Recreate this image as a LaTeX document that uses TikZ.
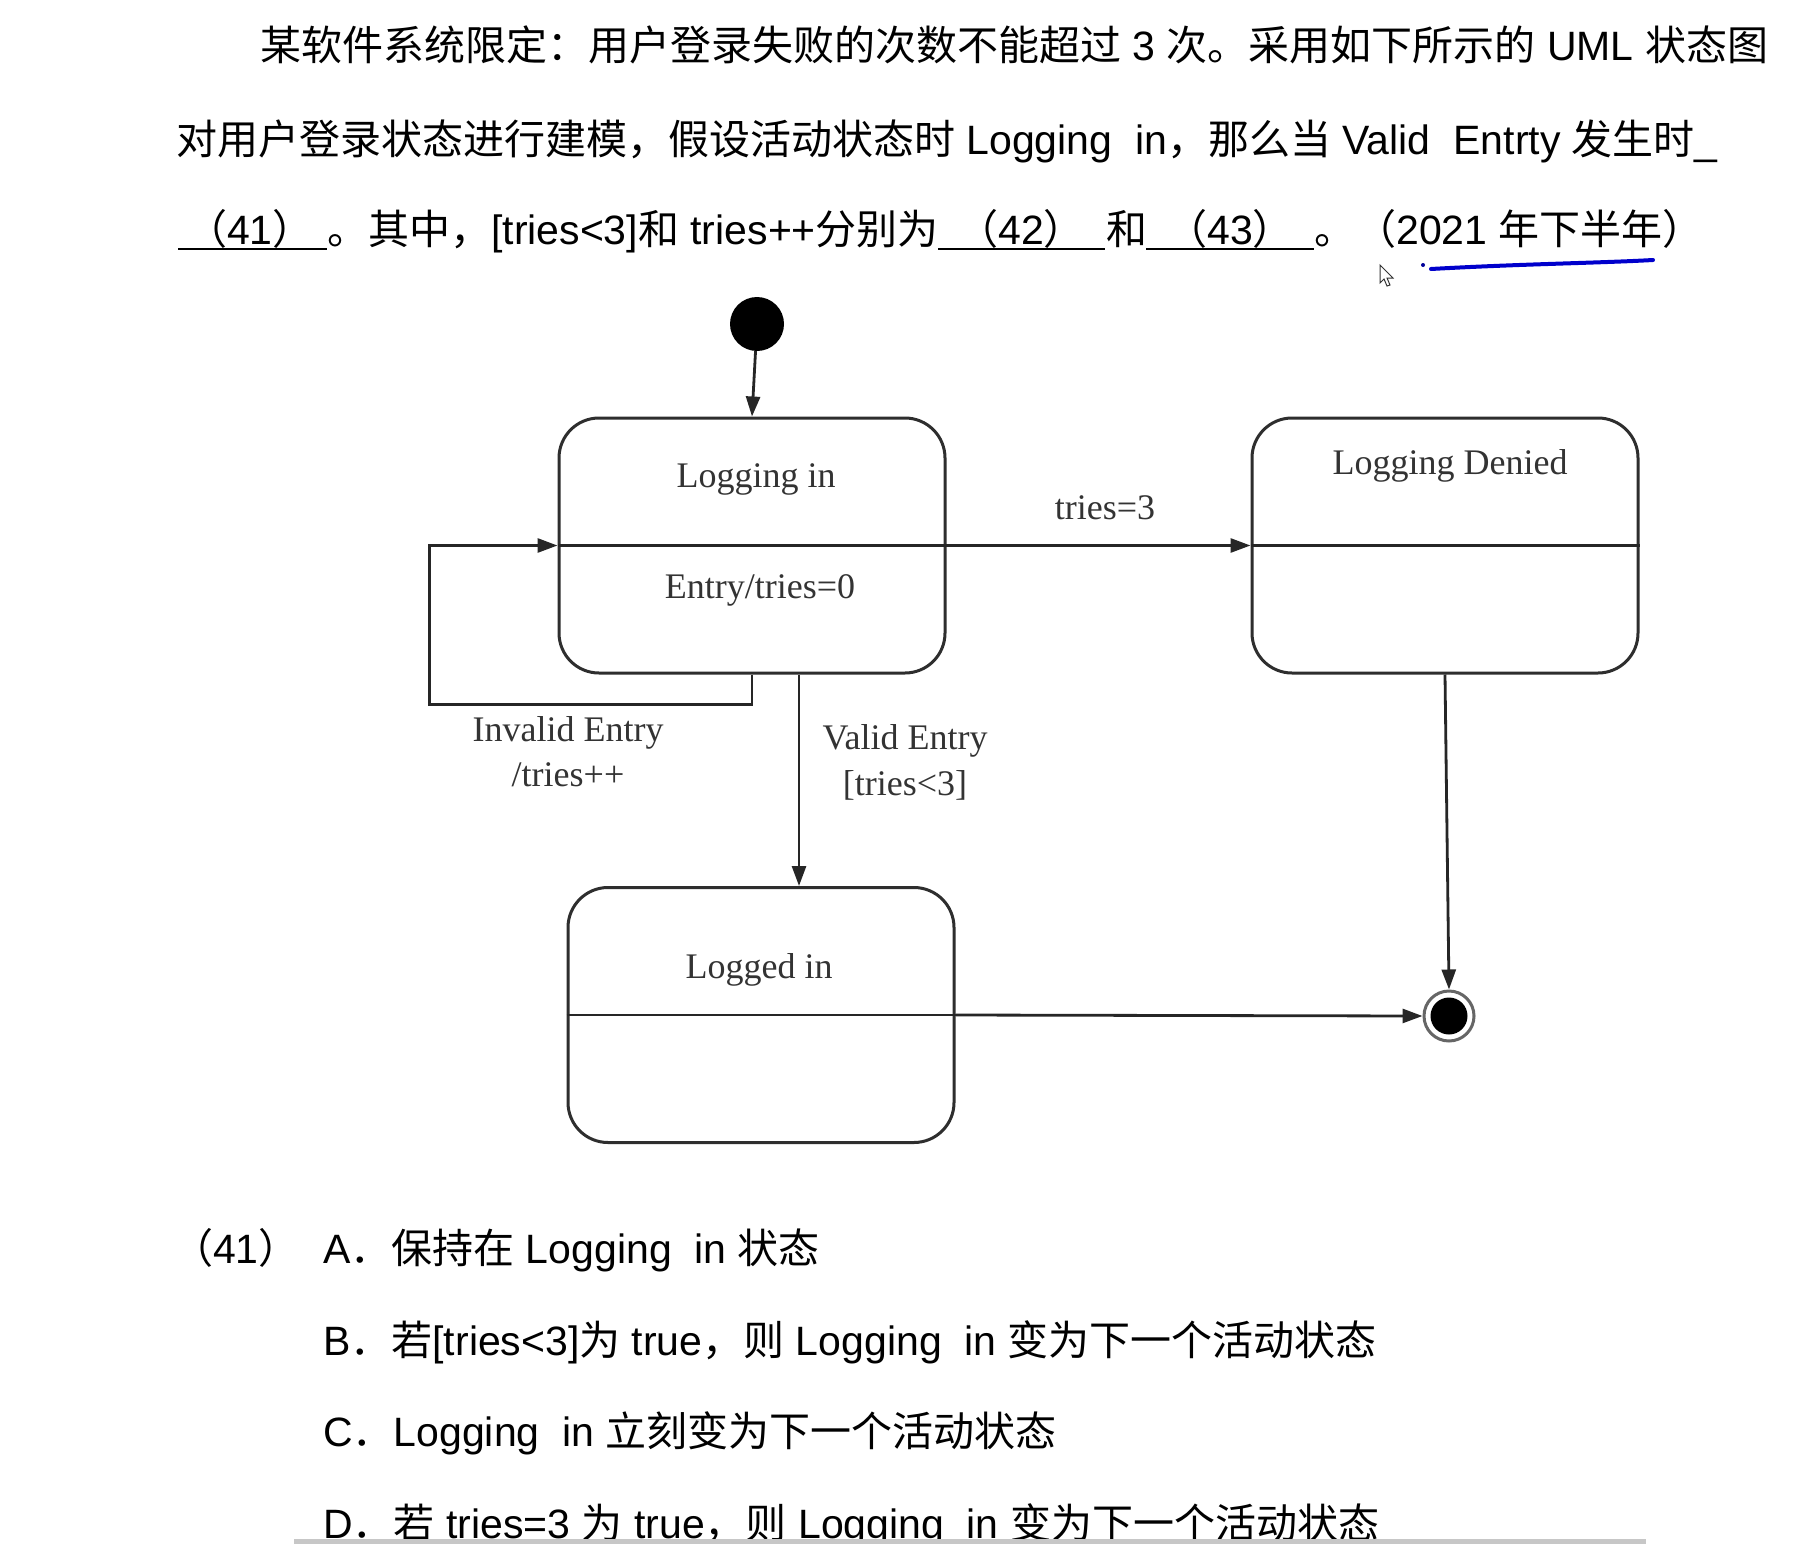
\documentclass[tikz,border=0pt]{standalone}
\usepackage{fontspec}
\setmainfont{Liberation Sans}
\newfontfamily\cjk{Noto Sans CJK SC}
\newfontfamily\tms{Liberation Serif}
\usetikzlibrary{arrows.meta}
\begin{document}
\begin{tikzpicture}[x=1pt,y=-1pt,
  q/.style={anchor=base west,inner sep=0pt,font=\fontsize{41}{50}\selectfont},
  qc/.style={anchor=base,inner sep=0pt,font=\fontsize{41}{50}\selectfont},
  lbl/.style={font=\tms\fontsize{36}{40}\selectfont,text=black!80,inner sep=0pt},
  statebox/.style={draw=black!82,line width=3pt,rounded corners=40pt,minimum width=386pt,minimum height=255pt,inner sep=0pt},
  ln/.style={draw=black!85,line width=2.8pt},
  arr/.style={ln,-{Triangle[length=20pt,width=14pt]}},
  uline/.style={draw=black,line width=2pt},
]
\useasboundingbox (0,0) rectangle (1820,1544);
\fill[white] (0,0) rectangle (1820,1544);

% ---- question text ----
\node[q] (l1) at (260,61) {{\cjk 某软件系统限定：用户登录失败的次数不能超过} 3 {\cjk 次。采用如下所示的} UML {\cjk 状态图}};
\node[q] (l2) at (176,154) {{\cjk 对用户登录状态进行建模，假设活动状态时} Logging\ \ in{\cjk ，那么当} Valid\ \ Entrty {\cjk 发生时}\_};
\node[qc] (b41) at (250,244) {{\cjk （}41{\cjk ）}};
\node[q] (l3b) at (327,244) {{\cjk 。其中，}[tries<3]{\cjk 和} tries++{\cjk 分别为}};
\node[qc] (b42) at (1021,244) {{\cjk （}42{\cjk ）}};
\node[q] (he) at (1106,244) {\cjk 和};
\node[qc] (b43) at (1230,244) {{\cjk （}43{\cjk ）}};
\node[q] (l3e) at (1314,244) {{\cjk 。（}2021 {\cjk 年下半年）}};
\draw[uline] (178,249) -- (327,249);
\draw[uline] (938,249) -- (1105,249);
\draw[uline] (1146,249) -- (1314,249);

% hand annotation and pointer
\draw[blue!80!black,line width=4pt,line cap=round] (1431,269) .. controls (1520,264) and (1600,263) .. (1653,260);
\fill[blue!60!black] (1423,265) circle (2pt);
\draw[black!80,line width=1pt,fill=white] (1380,265) -- (1380,283) -- (1384,279) -- (1387,286) -- (1390,285) -- (1387,278) -- (1393,278) -- cycle;

% ---- state diagram ----
\node[circle,fill=black,minimum size=54pt,inner sep=0pt] (init) at (757,324) {};
\node[statebox] (login) at (752,545.5) {};
\node[statebox] (denied) at (1445,545.5) {};
\node[statebox] (logged) at (761,1015) {};
\draw[ln] (login.west) -- (login.east);
\draw[ln] (denied.west) -- (denied.east);
\draw[ln] (logged.west) -- (logged.east);

\node[lbl] (t1) at (756,479) {Logging in};
\node[lbl] (t2) at (760,590) {Entry/tries=0};
\node[lbl] (t3) at (1450,466) {Logging Denied};
\node[lbl] (t4) at (759,970) {Logged in};

\node[circle,draw=black!60,line width=3pt,minimum size=50pt,inner sep=0pt] (final) at (1449,1016) {};
\fill[black] (final.center) circle (18.5pt);

\draw[arr] (init) -- (login.north);
\draw[arr] (login.south) -- ++(0,30) -| ([xshift=-128pt]login.west) -- (login.west);
\draw[arr] ([xshift=47pt]login.south) -- ([xshift=47pt]login.south |- logged.north);
\draw[arr] (login.east) -- (denied.west);
\draw[arr] (denied.south) -- (final.north);
\draw[arr] (logged.east) -- (final.west);

\node[lbl] (e1) at (1105,508) {tries=3};
\node[lbl] (e2) at (568,733) {Invalid Entry};
\node[lbl] (e3) at (568,775) {/tries++};
\node[lbl] (e4) at (905,741) {Valid Entry};
\node[lbl] (e5) at (905,785) {[tries<3]};

% ---- options ----
\node[q] (o0) at (172,1263) {{\cjk （}41{\cjk ）}};
\node[q] (oa) at (323,1263) {A{\cjk ．保持在} Logging\ \ in {\cjk 状态}};
\node[q] (ob) at (323,1355) {B{\cjk ．若}[tries<3]{\cjk 为} true{\cjk ，则} Logging\ \ in {\cjk 变为下一个活动状态}};
\node[q] (oc) at (323,1446) {C{\cjk ．}Logging\ \ in {\cjk 立刻变为下一个活动状态}};
\node[q] (od) at (323,1538) {D{\cjk ．若} tries=3 {\cjk 为} true{\cjk ，则} Logging\ \ in {\cjk 变为下一个活动状态}};

\fill[black!22] (294,1539) rectangle (1646,1544);
\end{tikzpicture}
\end{document}
